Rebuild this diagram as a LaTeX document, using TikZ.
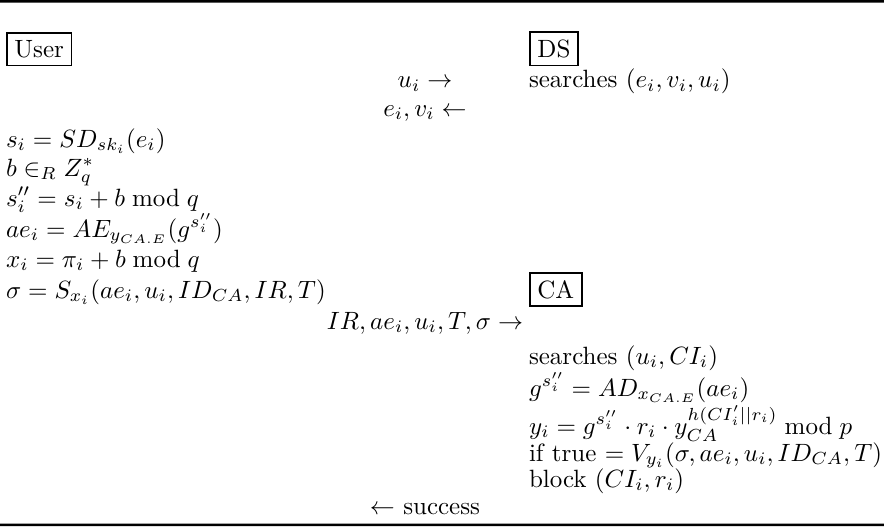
\documentclass[tikz,border=0pt]{standalone}
\begin{document}
\begin{tikzpicture}[x=0.4pt,y=-0.4pt,
  txt/.style={inner sep=0pt, outer sep=0pt},
  lcol/.style={txt, anchor=base west},
  mcol/.style={txt, anchor=base},
  party/.style={draw, line width=0.75pt, inner sep=3pt, anchor=base west}]
\useasboundingbox (0,0) rectangle (884,526);
\fill (0,0) rectangle (884,2.6) (0,523.6) rectangle (884,526);
% parties
\node[party] (user) at (6,57.5) {User};
\node[party] (ds) at (529,57.5) {DS};
\node[party] (ca) at (529,298) {CA};
% messages (centered column)
\node[mcol] (m1) at (425,88) {$u_i \rightarrow$};
\node[mcol] (m2) at (425,116) {$e_i, v_i \leftarrow$};
\node[mcol] (m3) at (425,329) {$IR, ae_i, u_i, T, \sigma \rightarrow$};
\node[mcol] (m4) at (425,514) {$\leftarrow$ success};
% DS column
\node[lcol] (d1) at (529,88) {searches $(e_i, v_i, u_i)$};
% user column
\node[lcol] (u1) at (6,147) {$s_i = SD_{sk_i}(e_i)$};
\node[lcol] (u2) at (6,176) {$b \in_R Z_q^*$};
\node[lcol] (u3) at (6,206) {$s_i'' = s_i + b \bmod q$};
\node[lcol] (u4) at (6,237) {$ae_i = AE_{y_{CA.E}}(g^{s_i''})$};
\node[lcol] (u5) at (6,267) {$x_i = \pi_i + b \bmod q$};
\node[lcol] (u6) at (6,298) {$\sigma = S_{x_i}(ae_i, u_i, ID_{CA}, IR, T)$};
% CA column
\node[lcol] (c1) at (529,364) {searches $(u_i, CI_i)$};
\node[lcol] (c2) at (529,396) {$g^{s_i''} = AD_{x_{CA.E}}(ae_i)$};
\node[lcol] (c3) at (529,434) {$y_i = g^{s_i''} \cdot r_i \cdot y_{CA}^{h(CI_i'||r_i)} \bmod p$};
\node[lcol] (c4) at (529,461) {if true $= V_{y_i}(\sigma, ae_i, u_i, ID_{CA}, T)$};
\node[lcol] (c5) at (529,487) {block $(CI_i, r_i)$};
\end{tikzpicture}
\end{document}
